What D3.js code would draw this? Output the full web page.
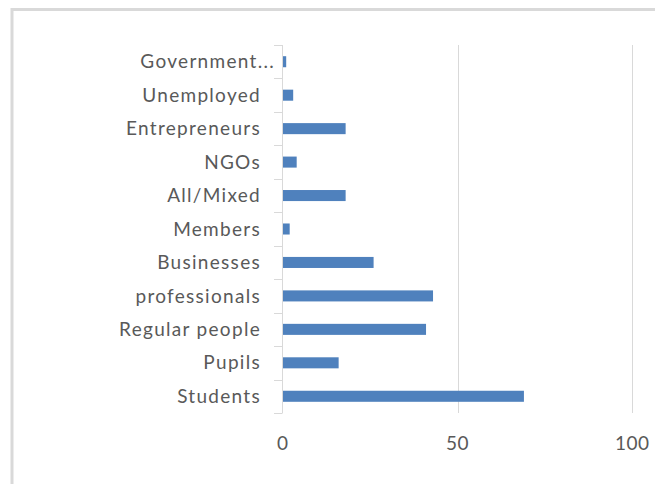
<!DOCTYPE html>
<html><head><meta charset="utf-8">
<script src="https://cdn.jsdelivr.net/npm/d3@7"></script>
<style>body{margin:0;background:#fff;}svg{display:block;}</style>
</head><body>
<svg id="c" width="655" height="484"></svg>
<script>
const categories = ["Government...", "Unemployed", "Entrepreneurs", "NGOs", "All/Mixed", "Members", "Businesses", "professionals", "Regular people", "Pupils", "Students"];
const values = [1, 3, 18, 4, 18, 2, 26, 43, 41, 16, 69];
const xTicks = [0, 50, 100];

const svg = d3.select("#c");
const font = "Lato, 'Open Sans', sans-serif";
// outer border
svg.append("rect").attr("x", 12).attr("y", 9.5).attr("width", 700).attr("height", 600)
  .attr("fill", "none").attr("stroke", "#d9d9d9").attr("stroke-width", 3);

const x = d3.scaleLinear().domain([0, 100]).range([282.7, 632.3]);
const y = d3.scaleBand().domain(categories).range([45, 413]).paddingInner(0.67).paddingOuter(0.335);
const band = d3.scaleBand().domain(categories).range([45, 413]);

// gridlines
svg.append("g").selectAll("line").data(xTicks.slice(1)).join("line")
  .attr("x1", d => Math.round(x(d)) + 0.5).attr("x2", d => Math.round(x(d)) + 0.5)
  .attr("y1", 45).attr("y2", 413).attr("stroke", "#d9d9d9").attr("stroke-width", 1);

// bars
svg.append("g").selectAll("rect").data(categories).join("rect")
  .attr("x", x(0)).attr("y", d => y(d)).attr("height", y.bandwidth())
  .attr("width", (d, i) => x(values[i]) - x(0)).attr("fill", "#4f81bd");

// left axis line + boundary ticks
const ax = svg.append("g");
ax.append("line").attr("x1", 282.5).attr("x2", 282.5).attr("y1", 45).attr("y2", 413)
  .attr("stroke", "#d9d9d9");
const bounds = categories.map(c => band(c)).concat([413]);
ax.selectAll("line.t").data(bounds).join("line").attr("class", "t")
  .attr("x1", 274).attr("x2", 282.5).attr("y1", d => Math.round(d) + 0.5).attr("y2", d => Math.round(d) + 0.5)
  .attr("stroke", "#d9d9d9");

// category labels (truncated labels sit closer to the axis, as in the source)
svg.append("g").selectAll("text").data(categories).join("text")
  .attr("x", d => d.endsWith("...") ? 275 : 261).attr("y", d => band(d) + band.bandwidth() / 2)
  .attr("dy", "0.35em").attr("text-anchor", "end")
  .attr("font-family", font).attr("font-size", 19).attr("letter-spacing", 1.3).attr("fill", "#595959")
  .text(d => d);

// x tick labels
svg.append("g").selectAll("text").data(xTicks).join("text")
  .attr("x", d => x(d)).attr("y", 443).attr("dy", "0.35em").attr("text-anchor", "middle")
  .attr("font-family", font).attr("font-size", 19).attr("letter-spacing", 0.5).attr("fill", "#595959")
  .text(d => d);
</script>
</body></html>
